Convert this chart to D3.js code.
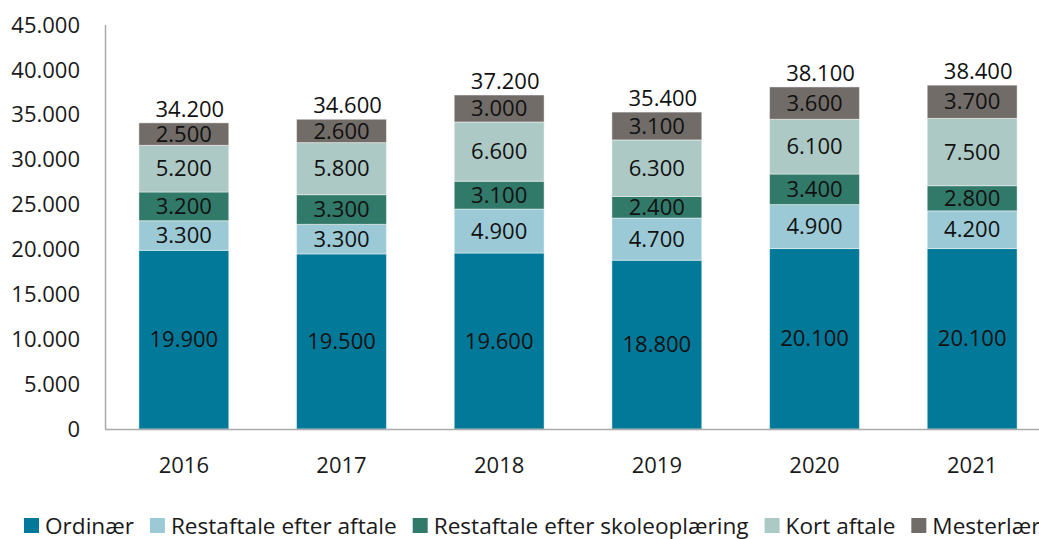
<!DOCTYPE html>
<html><head><meta charset="utf-8">
<script src="https://cdn.jsdelivr.net/npm/d3@7"></script>
<style>body{margin:0;background:#fff}svg{display:block;font-family:"Open Sans",sans-serif}</style>
</head><body><svg id="c" width="1039" height="539"></svg>
<script>
const years = ["2016","2017","2018","2019","2020","2021"];
const seriesNames = ["Ordinær","Restaftale efter aftale","Restaftale efter skoleoplæring","Kort aftale","Mesterlære"];
const ordinaer = [19900,19500,19600,18800,20100,20100];
const restAftale = [3300,3300,4900,4700,4900,4200];
const restSkole = [3200,3300,3100,2400,3400,2800];
const kortAftale = [5200,5800,6600,6300,6100,7500];
const mesterlaere = [2500,2600,3000,3100,3600,3700];
const totals = [34200,34600,37200,35400,38100,38400];
const yTicks = [0,5000,10000,15000,20000,25000,30000,35000,40000,45000];
const colors = ["#03799A","#9BCAD6","#317969","#ADC9C5","#726C68"];

const svg = d3.select("#c");
const fmt = v => d3.format(",")(v).replace(/,/g,".");
const y = d3.scaleLinear().domain([0,45000]).range([429,25]);
const x = d3.scaleBand().domain(years).range([105,1051]).paddingInner(0.43).paddingOuter(0.215);

const rows = years.map((yr,i)=>({year:yr,s0:ordinaer[i],s1:restAftale[i],s2:restSkole[i],s3:kortAftale[i],s4:mesterlaere[i]}));
const stack = d3.stack().keys(["s0","s1","s2","s3","s4"])(rows);

// y axis labels
svg.append("g").selectAll("text").data(yTicks).join("text")
  .attr("x",80).attr("y",d=>y(d)).attr("dy","0.35em").attr("text-anchor","end")
  .attr("font-size",22).attr("fill","#1a1a1a").text(fmt);

// bars
stack.forEach((layer,li)=>{
  const g = svg.append("g");
  g.selectAll("rect").data(layer).join("rect")
    .attr("x",d=>x(d.data.year)).attr("width",x.bandwidth())
    .attr("y",d=>y(d[1])).attr("height",d=>y(d[0])-y(d[1]))
    .attr("fill",colors[li]).attr("stroke","#ffffff").attr("stroke-opacity",0.45).attr("stroke-width",1);
  g.selectAll("text").data(layer).join("text")
    .attr("x",d=>x(d.data.year)+x.bandwidth()/2).attr("y",d=>(y(d[0])+y(d[1]))/2).attr("dy","0.35em")
    .attr("text-anchor","middle").attr("font-size",22).attr("fill","#111")
    .text(d=>fmt(d[1]-d[0]));
});

// totals
svg.append("g").selectAll("text").data(totals).join("text")
  .attr("x",(d,i)=>x(years[i])+x.bandwidth()/2+6).attr("y",(d,i)=>y(stack[4][i][1])-14).attr("dy","0.35em")
  .attr("text-anchor","middle").attr("font-size",22).attr("fill","#111").text(fmt);

// axes lines
svg.append("line").attr("x1",105.5).attr("x2",105.5).attr("y1",25).attr("y2",429).attr("stroke","#aaaaaa").attr("stroke-width",1.5);
svg.append("line").attr("x1",105).attr("x2",1039).attr("y1",429.5).attr("y2",429.5).attr("stroke","#aaaaaa").attr("stroke-width",1.5);

// x labels
svg.append("g").selectAll("text").data(years).join("text")
  .attr("x",d=>x(d)+x.bandwidth()/2).attr("y",465).attr("dy","0.35em").attr("text-anchor","middle")
  .attr("font-size",22).attr("fill","#1a1a1a").text(d=>d);

// legend
let lx = 24;
const lg = svg.append("g");
seriesNames.forEach((n,i)=>{
  lg.append("rect").attr("x",lx).attr("y",518).attr("width",15).attr("height",15).attr("fill",colors[i]);
  const t = lg.append("text").attr("x",lx+21).attr("y",526).attr("dy","0.35em").attr("font-size",22.6).attr("fill","#1a1a1a").text(n);
  lx = lx + 21 + t.node().getComputedTextLength() + 16;
});
</script></body></html>
